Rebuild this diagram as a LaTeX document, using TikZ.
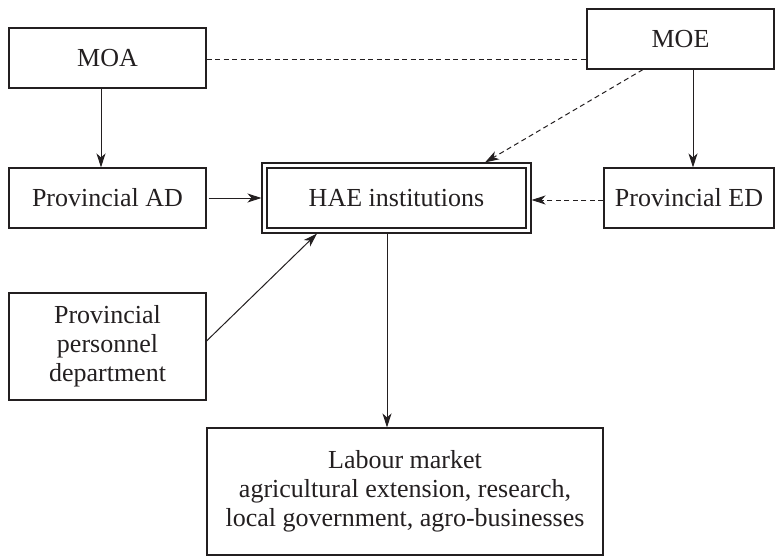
\documentclass[tikz,border=0pt]{standalone}
\usepackage{fontspec}
\setmainfont{Liberation Serif}
\usetikzlibrary{arrows.meta}
\definecolor{ink}{HTML}{231F20}
\begin{document}
\begin{tikzpicture}[x=1pt,y=-1pt,
  box/.style={draw=ink, line width=1.1pt, rectangle, inner sep=0pt, align=center, text=ink,
    font=\fontsize{26}{29}\selectfont},
  conn/.style={draw=ink, line width=1pt, -{Stealth[length=14pt,width=9pt,inset=4pt]}},
  dconn/.style={conn, dash pattern=on 5pt off 3.5pt},
  dline/.style={draw=ink, line width=1pt, dash pattern=on 5pt off 3.5pt}]
\useasboundingbox (0,0) rectangle (775,556);
\node[box, minimum width=197, minimum height=60] (moa) at (107.5,58) {MOA};
\node[box, minimum width=197, minimum height=60] (pad) at (107.5,198) {Provincial AD};
\node[box, minimum width=269, minimum height=70] (hae) at (396.5,198) {HAE institutions};
\node[draw=ink, line width=1.1pt, inner sep=0pt, minimum width=259, minimum height=60] (haei) at (hae.center) {};
\node[box, minimum width=187, minimum height=60] (moe) at (680.5,39) {MOE};
\node[box, minimum width=170, minimum height=60] (ped) at (689,198) {Provincial ED};
\node[box, minimum width=197, minimum height=107] (ppd) at (107.5,346.5) {Provincial\\personnel\\department};
\node[box, minimum width=396, minimum height=127] (lab) at (405,491.5) {Labour market\\agricultural extension, research,\\local government, agro-businesses};

\draw[conn] ([xshift=-6.5pt]moa.south) -- ([xshift=-6.5pt]pad.north);
\draw[conn] ([xshift=2pt]pad.east) -- (hae.west);
\draw[dline] ([yshift=-2pt]moa.east) -- ([yshift=-2pt]moa.east -| moe.west);
\draw[dconn] ([xshift=-37.5pt]moe.south) -- ([xshift=88.5pt]hae.north);
\draw[conn] ([xshift=12.5pt]moe.south) -- ([xshift=12.5pt]moe.south |- ped.north);
\draw[dconn] ([yshift=-2pt]ped.west) -- ([yshift=-2pt]hae.east);
\draw[conn] ([yshift=5.5pt]ppd.east) -- ([xshift=-79.5pt]hae.south);
\draw[conn] ([xshift=-9.5pt]hae.south) -- ([xshift=-9.5pt]hae.south |- lab.north);
\end{tikzpicture}
\end{document}
